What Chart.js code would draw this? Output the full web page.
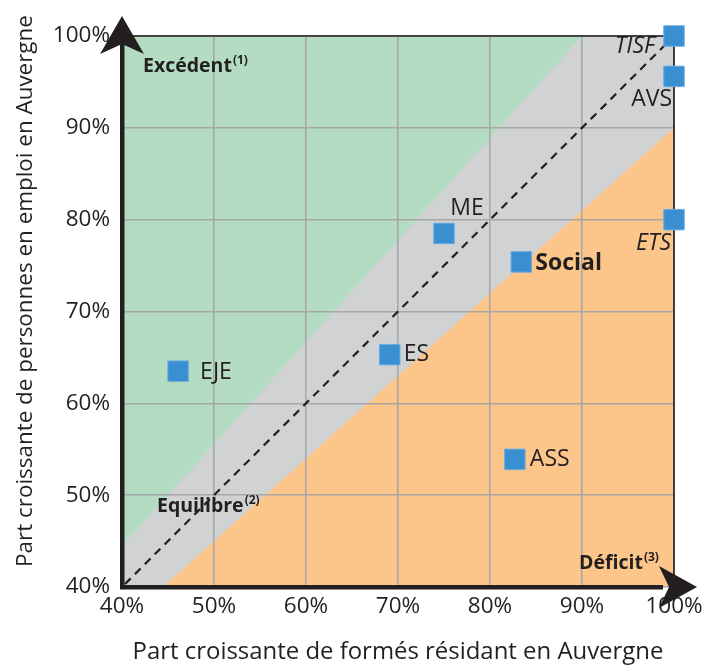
<!DOCTYPE html>
<html><head><meta charset="utf-8">
<script src="https://cdn.jsdelivr.net/npm/chart.js@4/dist/chart.umd.min.js"></script>
<style>html,body{margin:0;padding:0;background:#fff}canvas{display:block}</style>
</head><body>
<canvas id="c" width="704" height="666" style="width:704px;height:666px"></canvas>
<script>
// ---- data ----
const categories = ['TISF','AVS','ETS','ME','Social','ES','EJE','ASS'];
const xValues = [100, 100, 100, 75.0, 83.4, 69.1, 46.1, 82.7];
const yValues = [100, 95.6, 80.0, 78.5, 75.4, 65.3, 63.5, 53.9];
const tickValues = [40, 50, 60, 70, 80, 90, 100];
const bandRatio = 0.9; // equilibrium band: 0.9x <= y <= x/0.9
const xTitle = 'Part croissante de formés résidant en Auvergne';
const yTitle = 'Part croissante de personnes en emploi en Auvergne';
const zoneLabels = [
  {text:'Excédent', sup:'(1)'},
  {text:'Equilibre', sup:'(2)'},
  {text:'Déficit', sup:'(3)'}
];

// ---- styles ----
const FONT = '"Open Sans", "Noto Sans", sans-serif';
const TXT = '#231f20';
const labelStyle = {
  TISF:  {dx:-19, dy:10, align:'right', italic:true},
  AVS:   {dx:-2,  dy:23, align:'right'},
  ETS:   {dx:-3,  dy:24, align:'right', italic:true},
  ME:    {dx:23,  dy:-25, align:'center'},
  Social:{dx:14,  dy:2, align:'left', bold:true},
  ES:    {dx:14,  dy:0, align:'left'},
  EJE:   {dx:22,  dy:1, align:'left'},
  ASS:   {dx:15,  dy:0, align:'left'}
};
const zonePos = [
  {x:143, y:72, align:'left'},
  {x:157, y:512, align:'left'},
  {x:579, y:569, align:'left'}
];

const AREA = {left:122, top:36, right:674, bottom:587};

function fitFont(ctx, text, target, weight) {
  let size = 20;
  ctx.font = weight + ' ' + size + 'px ' + FONT;
  const w = ctx.measureText(text).width;
  size = size * target / w;
  return weight + ' ' + size.toFixed(2) + 'px ' + FONT;
}

const decor = {
  id:'decor',
  beforeDraw(chart) {
    const {ctx, scales:{x, y}} = chart;
    const px = v => x.getPixelForValue(v), py = v => y.getPixelForValue(v);
    const lo = tickValues[0], hi = tickValues[tickValues.length-1];
    ctx.save();
    ctx.fillStyle = '#fff';
    ctx.fillRect(0,0,chart.width,chart.height);
    ctx.fillStyle = '#fcc68a';
    ctx.fillRect(px(lo), py(hi), px(hi)-px(lo), py(lo)-py(hi));
    ctx.fillStyle = '#d1d2d4';
    ctx.beginPath();
    ctx.moveTo(px(lo), py(lo));
    ctx.lineTo(px(lo/bandRatio), py(lo));
    ctx.lineTo(px(hi), py(hi*bandRatio));
    ctx.lineTo(px(hi), py(hi));
    ctx.lineTo(px(lo), py(hi));
    ctx.closePath(); ctx.fill();
    ctx.fillStyle = '#b3dcc2';
    ctx.beginPath();
    ctx.moveTo(px(lo), py(lo/bandRatio));
    ctx.lineTo(px(hi*bandRatio), py(hi));
    ctx.lineTo(px(lo), py(hi));
    ctx.closePath(); ctx.fill();
    ctx.restore();
  },
  beforeDatasetsDraw(chart) {
    const {ctx, scales:{x, y}} = chart;
    const px = v => x.getPixelForValue(v), py = v => y.getPixelForValue(v);
    const lo = tickValues[0], hi = tickValues[tickValues.length-1];
    ctx.save();
    ctx.strokeStyle = TXT; ctx.lineWidth = 2.2; ctx.setLineDash([8,6]);
    ctx.beginPath(); ctx.moveTo(px(lo)+3, py(lo)-3); ctx.lineTo(px(hi), py(hi)); ctx.stroke();
    ctx.setLineDash([]);
    ctx.lineWidth = 1.6;
    ctx.beginPath(); ctx.moveTo(px(lo), py(hi)); ctx.lineTo(px(hi), py(hi)); ctx.lineTo(px(hi), py(lo)); ctx.stroke();
    ctx.fillStyle = TXT;
    const L = px(lo), B = py(lo);
    ctx.fillRect(L-2, 40, 4.5, B-40+2);
    ctx.fillRect(L-2, B-2, 665-L, 4.5);
    ctx.beginPath();
    ctx.moveTo(L, 16); ctx.lineTo(144, 54); ctx.lineTo(L, 44); ctx.lineTo(100, 54); ctx.closePath(); ctx.fill();
    ctx.beginPath();
    ctx.moveTo(697, B); ctx.lineTo(659, B-21); ctx.lineTo(669, B); ctx.lineTo(659, B+21); ctx.closePath(); ctx.fill();
    ctx.textBaseline = 'alphabetic';
    zoneLabels.forEach((z, i) => {
      const p = zonePos[i];
      ctx.font = 'bold 19.5px ' + FONT;
      ctx.fillStyle = TXT;
      ctx.textAlign = 'left';
      ctx.fillText(z.text, p.x, p.y);
      const w = ctx.measureText(z.text).width;
      ctx.font = 'bold 12px ' + FONT;
      ctx.fillText(z.sup, p.x + w + 1, p.y - 8);
    });
    ctx.restore();
  },
  afterDatasetsDraw(chart) {
    const {ctx, scales:{x, y}} = chart;
    ctx.save();
    ctx.fillStyle = TXT;
    ctx.textBaseline = 'middle';
    categories.forEach((c, i) => {
      const s = labelStyle[c];
      const X = x.getPixelForValue(xValues[i]) + s.dx;
      const Y = y.getPixelForValue(yValues[i]) + s.dy;
      ctx.font = (s.italic ? 'italic ' : '') + (s.bold ? 'bold ' : '') + '23px ' + FONT;
      ctx.textAlign = s.align;
      ctx.fillText(c, X, Y);
    });
    ctx.textAlign = 'center';
    ctx.font = fitFont(ctx, xTitle, 531, 'normal');
    ctx.fillText(xTitle, 398, 652);
    ctx.translate(26, 291);
    ctx.rotate(-Math.PI/2);
    ctx.font = fitFont(ctx, yTitle, 552, 'normal');
    ctx.fillText(yTitle, 0, 0);
    ctx.restore();
  }
};

const tickFont = {family: FONT, size: 22.5};
new Chart(document.getElementById('c'), {
  type: 'scatter',
  data: {
    datasets: [{
      data: xValues.map((v, i) => ({x: v, y: yValues[i]})),
      pointStyle: 'rect',
      pointRadius: 14.5,
      pointHoverRadius: 14.5,
      backgroundColor: '#3a8fd0',
      borderColor: '#6aaee0',
      borderWidth: 1,
      clip: false
    }]
  },
  options: {
    responsive: false,
    devicePixelRatio: 1,
    animation: false,
    events: [],
    layout: {padding: {left: 0, top: AREA.top, right: 704 - AREA.right, bottom: 0}},
    plugins: {legend: {display: false}, tooltip: {enabled: false}},
    scales: {
      x: {
        type: 'linear', min: tickValues[0], max: tickValues[tickValues.length-1],
        afterBuildTicks: s => { s.ticks = tickValues.map(v => ({value: v})); },
        afterFit: s => { s.height = 666 - AREA.bottom; s.paddingLeft = 0; s.paddingRight = 0; },
        ticks: {callback: v => v + '%', font: tickFont, color: TXT, padding: 6, maxRotation: 0},
        grid: {color: '#a7a7a9', lineWidth: 1.6, drawTicks: false},
        border: {display: false}
      },
      y: {
        type: 'linear', min: tickValues[0], max: tickValues[tickValues.length-1],
        afterBuildTicks: s => { s.ticks = tickValues.map(v => ({value: v})); },
        afterFit: s => { s.width = AREA.left; s.paddingTop = 0; s.paddingBottom = 0; },
        ticks: {callback: v => v + '%', font: tickFont, color: TXT, padding: 12},
        grid: {color: '#a7a7a9', lineWidth: 1.6, drawTicks: false},
        border: {display: false}
      }
    }
  },
  plugins: [decor]
});
</script>
</body></html>
